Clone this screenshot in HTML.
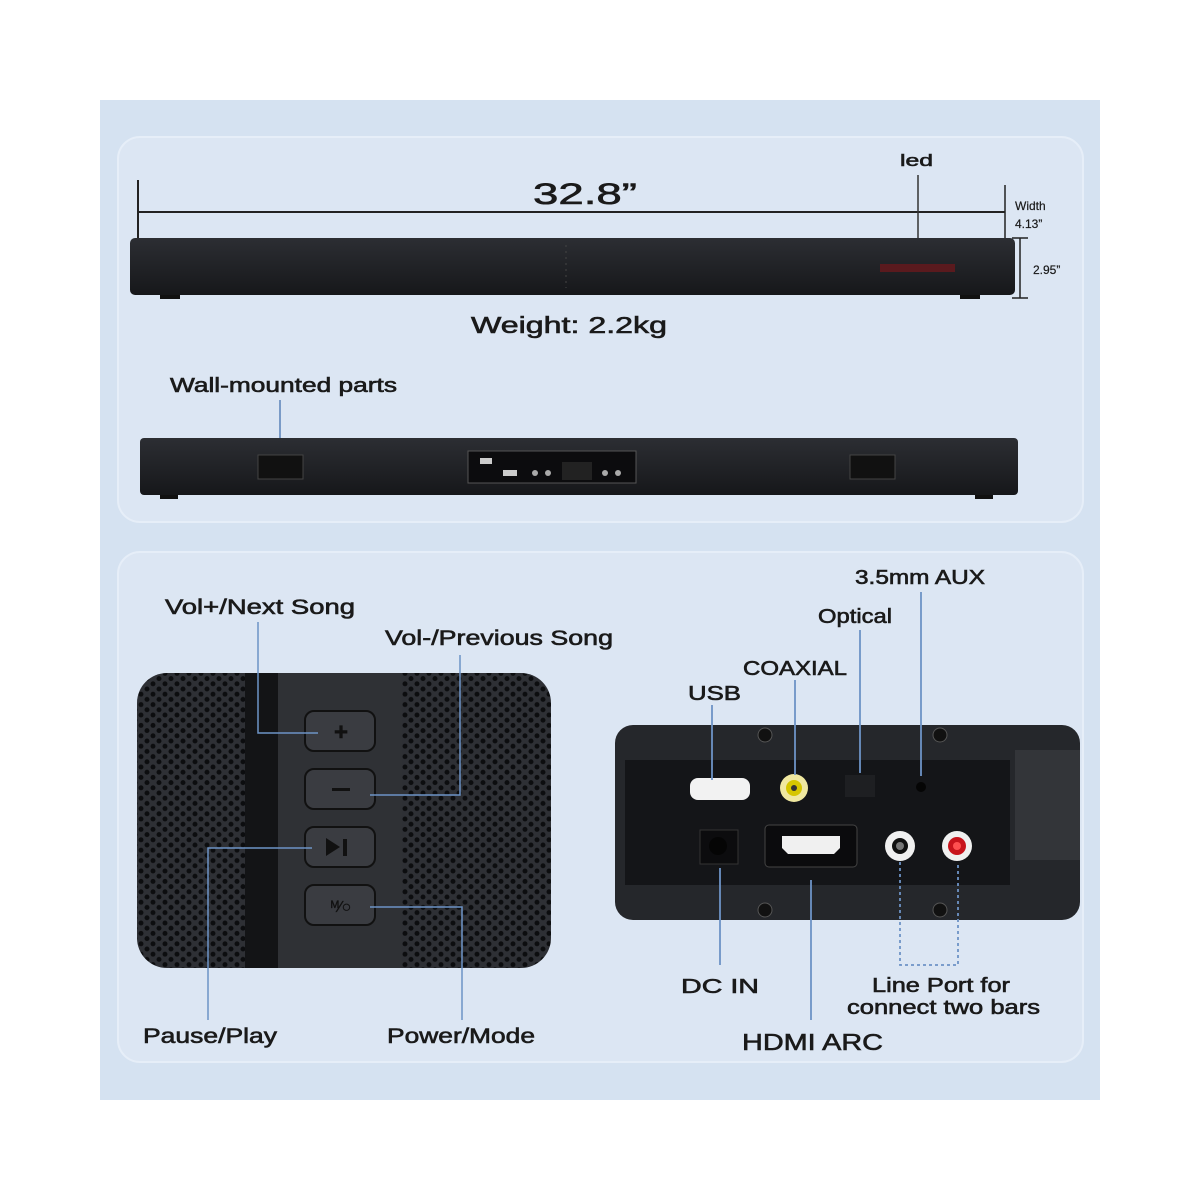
<!DOCTYPE html>
<html><head><meta charset="utf-8"><style>
html,body{margin:0;padding:0;background:#fff;width:1200px;height:1200px;overflow:hidden}
svg{display:block}
text{font-family:"Liberation Sans",sans-serif;fill:#1a1a1a;stroke:#1a1a1a;stroke-width:0.6}
</style></head><body>
<svg width="1200" height="1200" viewBox="0 0 1200 1200" xmlns="http://www.w3.org/2000/svg">
<defs>
<pattern id="hex" width="12" height="10.4" patternUnits="userSpaceOnUse">
<rect width="12" height="10.4" fill="#2e3035"/>
<circle cx="3" cy="2.6" r="2.5" fill="#0c0d0f"/>
<circle cx="9" cy="7.8" r="2.5" fill="#0c0d0f"/>
</pattern>
<linearGradient id="bar" x1="0" y1="0" x2="0" y2="1">
<stop offset="0" stop-color="#2c2e33"/><stop offset="1" stop-color="#16171a"/>
</linearGradient>
</defs>
<rect x="100" y="100" width="1000" height="1000" fill="#d5e2f1"/>
<rect x="118" y="137" width="965" height="385" rx="22" fill="#dce6f3" stroke="#e6eef8" stroke-width="2"/>
<rect x="118" y="552" width="965" height="510" rx="22" fill="#dce6f3" stroke="#e6eef8" stroke-width="2"/>

<line x1="138" y1="180" x2="138" y2="290" stroke="#222" stroke-width="2"/>
<line x1="1005" y1="185" x2="1005" y2="240" stroke="#222" stroke-width="1.5"/>
<line x1="138" y1="212" x2="1005" y2="212" stroke="#222" stroke-width="2"/>
<text x="533" y="204" font-size="30" textLength="104" lengthAdjust="spacingAndGlyphs">32.8”</text>
<text x="900" y="166" font-size="17" textLength="33" lengthAdjust="spacingAndGlyphs">led</text>
<line x1="918" y1="175" x2="918" y2="270" stroke="#333" stroke-width="1.5"/>
<text x="1015" y="210" font-size="12" style="stroke-width:0.2">Width</text>
<text x="1015" y="228" font-size="12" style="stroke-width:0.2">4.13”</text>
<line x1="1020" y1="238" x2="1020" y2="298" stroke="#222" stroke-width="1.5"/>
<line x1="1012" y1="238" x2="1028" y2="238" stroke="#222" stroke-width="1.5"/>
<line x1="1012" y1="298" x2="1028" y2="298" stroke="#222" stroke-width="1.5"/>
<text x="1033" y="274" font-size="12" style="stroke-width:0.2">2.95”</text>

<rect x="130" y="238" width="885" height="57" rx="5" fill="url(#bar)"/>
<rect x="160" y="295" width="20" height="4" fill="#111"/><rect x="960" y="295" width="20" height="4" fill="#111"/>
<line x1="566" y1="245" x2="566" y2="288" stroke="#444" stroke-dasharray="2 4"/>
<rect x="880" y="264" width="75" height="8" fill="#5a1a1e"/>
<text x="471" y="333" font-size="23" textLength="196" lengthAdjust="spacingAndGlyphs">Weight: 2.2kg</text>

<text x="170" y="392" font-size="20" textLength="227" lengthAdjust="spacingAndGlyphs">Wall-mounted parts</text>
<line x1="280" y1="400" x2="280" y2="458" stroke="#5a82b8" stroke-width="1.5"/>
<rect x="140" y="438" width="878" height="57" rx="4" fill="url(#bar)"/>
<rect x="160" y="495" width="18" height="4" fill="#111"/><rect x="975" y="495" width="18" height="4" fill="#111"/>
<rect x="258" y="455" width="45" height="24" fill="#111" stroke="#444"/>
<rect x="850" y="455" width="45" height="24" fill="#111" stroke="#444"/>
<rect x="468" y="451" width="168" height="32" fill="#0c0c0e" stroke="#555"/>
<rect x="480" y="458" width="12" height="6" fill="#ccc"/><rect x="503" y="470" width="14" height="6" fill="#ccc"/>
<circle cx="535" cy="473" r="3" fill="#aaa"/><circle cx="548" cy="473" r="3" fill="#aaa"/>
<circle cx="605" cy="473" r="3" fill="#aaa"/><circle cx="618" cy="473" r="3" fill="#aaa"/>
<rect x="562" y="462" width="30" height="18" fill="#222"/>

<rect x="137" y="673" width="414" height="295" rx="30" fill="url(#hex)"/>
<rect x="245" y="673" width="33" height="295" fill="#131416"/>
<rect x="278" y="673" width="124" height="295" fill="#2f3135"/>
<g fill="#3a3c41" stroke="#111" stroke-width="2">
<rect x="305" y="711" width="70" height="40" rx="9"/>
<rect x="305" y="769" width="70" height="40" rx="9"/>
<rect x="305" y="827" width="70" height="40" rx="9"/>
<rect x="305" y="885" width="70" height="40" rx="9"/>
</g>
<text x="341" y="740" font-size="24" text-anchor="middle" style="fill:#111;stroke:#111;font-weight:bold">+</text>
<rect x="332" y="788" width="18" height="3" fill="#111"/>
<polygon points="326,838 326,856 340,847" fill="#111"/><rect x="343" y="839" width="4" height="17" fill="#111"/>
<text x="341" y="912" font-size="16" text-anchor="middle" style="fill:#111;stroke:#111;stroke-width:0.3">ᴹ⁄○</text>

<g stroke="#6d93c6" stroke-width="1.5" fill="none">
<polyline points="258,622 258,733 318,733"/>
<polyline points="460,655 460,795 370,795"/>
<polyline points="208,1020 208,848 312,848"/>
<polyline points="462,1020 462,907 370,907"/>
</g>
<text x="165" y="614" font-size="21" textLength="190" lengthAdjust="spacingAndGlyphs">Vol+/Next Song</text>
<text x="385" y="645" font-size="21" textLength="228" lengthAdjust="spacingAndGlyphs">Vol-/Previous Song</text>
<text x="143" y="1043" font-size="21" textLength="134" lengthAdjust="spacingAndGlyphs">Pause/Play</text>
<text x="387" y="1043" font-size="21" textLength="148" lengthAdjust="spacingAndGlyphs">Power/Mode</text>

<rect x="615" y="725" width="465" height="195" rx="18" fill="#25272b"/>
<rect x="1015" y="750" width="65" height="110" fill="#333539"/>
<rect x="625" y="760" width="385" height="125" fill="#141518"/>
<circle cx="765" cy="735" r="7" fill="#111" stroke="#555"/><circle cx="940" cy="735" r="7" fill="#111" stroke="#555"/>
<circle cx="765" cy="910" r="7" fill="#111" stroke="#555"/><circle cx="940" cy="910" r="7" fill="#111" stroke="#555"/>
<rect x="690" y="778" width="60" height="22" rx="8" fill="#f2f2f2"/>
<circle cx="794" cy="788" r="14" fill="#f0e8a0"/><circle cx="794" cy="788" r="8" fill="#d6c600"/><circle cx="794" cy="788" r="3" fill="#333"/>
<rect x="845" y="775" width="30" height="22" fill="#1e1f22"/>
<circle cx="921" cy="787" r="5" fill="#050505"/>
<rect x="700" y="830" width="38" height="34" fill="#0c0c0e" stroke="#333"/><circle cx="718" cy="846" r="9" fill="#050505"/>
<rect x="765" y="825" width="92" height="42" rx="4" fill="#0b0b0d" stroke="#444"/>
<path d="M782 836 H840 V848 L834 854 H788 L782 848 Z" fill="#f0f0f0"/>
<circle cx="900" cy="846" r="15" fill="#f0f0f0"/><circle cx="900" cy="846" r="8" fill="#111"/><circle cx="900" cy="846" r="4" fill="#777"/>
<circle cx="957" cy="846" r="15" fill="#f0f0f0"/><circle cx="957" cy="846" r="9" fill="#c8141c"/><circle cx="957" cy="846" r="4" fill="#ff5050"/>

<g stroke="#6d93c6" stroke-width="1.8" fill="none">
<line x1="712" y1="705" x2="712" y2="780"/>
<line x1="795" y1="680" x2="795" y2="775"/>
<line x1="860" y1="630" x2="860" y2="773"/>
<line x1="921" y1="592" x2="921" y2="776"/>
<line x1="720" y1="868" x2="720" y2="965"/>
<line x1="811" y1="880" x2="811" y2="1020"/>
<polyline points="900,862 900,965 958,965 958,862" stroke-dasharray="3 3"/>
</g>
<g font-size="20">
<text x="855" y="584" textLength="130" lengthAdjust="spacingAndGlyphs">3.5mm AUX</text>
<text x="818" y="623" textLength="74" lengthAdjust="spacingAndGlyphs">Optical</text>
<text x="743" y="675" textLength="104" lengthAdjust="spacingAndGlyphs">COAXIAL</text>
<text x="688" y="700" textLength="53" lengthAdjust="spacingAndGlyphs">USB</text>
<text x="681" y="993" textLength="78" lengthAdjust="spacingAndGlyphs">DC IN</text>
<text x="742" y="1050" font-size="23" textLength="141" lengthAdjust="spacingAndGlyphs">HDMI ARC</text>
<text x="872" y="992" textLength="138" lengthAdjust="spacingAndGlyphs">Line Port for</text>
<text x="847" y="1014" textLength="193" lengthAdjust="spacingAndGlyphs">connect two bars</text>
</g>
</svg>
</body></html>
